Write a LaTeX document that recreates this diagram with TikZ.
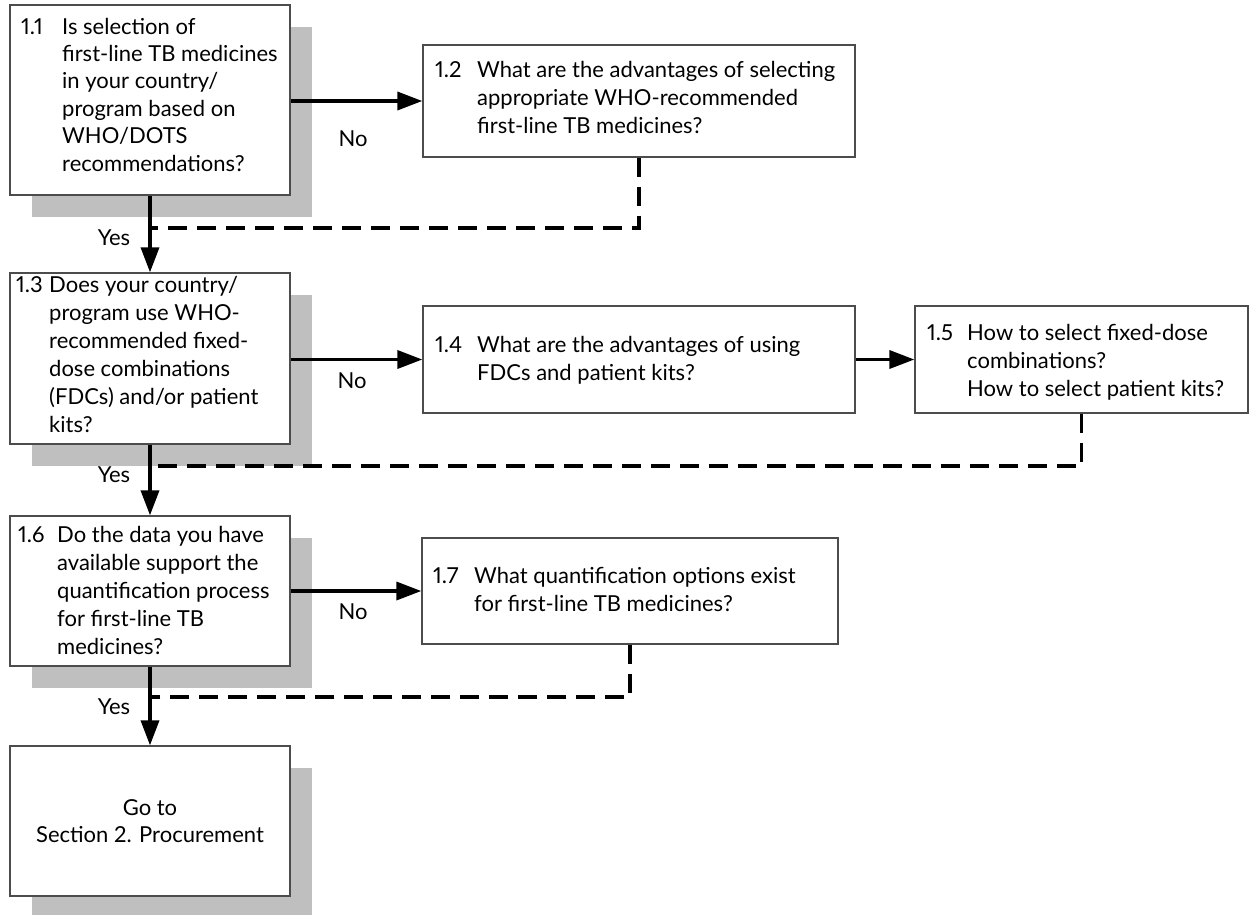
\documentclass[tikz,border=0pt]{standalone}
\usepackage{fontspec}
\setmainfont{Lato}[Numbers=Proportional]
\usetikzlibrary{arrows.meta,shadows}
\newcommand\qnum[2]{\makebox[#1][l]{#2}}
\begin{document}
\begin{tikzpicture}[x=1pt,y=-1pt,
  box/.style={draw=black!70, line width=1.3pt, fill=white, inner sep=0pt},
  shadowed/.style={drop shadow={shadow xshift=22pt, shadow yshift=-22pt, fill=black!25, opacity=1}},
  txt/.style={anchor=base west, inner sep=0pt, font=\fontsize{22}{28}\selectfont},
  lbl/.style={inner sep=0pt, font=\fontsize{22}{28}\selectfont},
  flow/.style={line width=3.5pt, -{Triangle[length=25pt,width=18pt]}},
  back/.style={line width=3.5pt, dash pattern=on 19pt off 10pt}]
\useasboundingbox (0,0) rectangle (1250,914);

% question boxes
\node[box, shadowed, minimum width=280, minimum height=190] (b11) at (150,100) {};
\node[box, minimum width=432, minimum height=112] (b12) at (639,101) {};
\node[box, shadowed, minimum width=280, minimum height=171] (b13) at (150,358.5) {};
\node[box, minimum width=432, minimum height=107] (b14) at (639,359.5) {};
\node[box, minimum width=333, minimum height=107] (b15) at (1081.5,359.5) {};
\node[box, shadowed, minimum width=280, minimum height=150] (b16) at (150,591) {};
\node[box, minimum width=416, minimum height=106] (b17) at (630,591) {};
\node[box, shadowed, minimum width=280, minimum height=150] (b2) at (150,821) {};

% box texts
\node[txt, font=\fontsize{22}{27.4}\selectfont] (t11) at (21,34) {\qnum{41pt}{1.1}\begin{tabular}[t]{@{}l@{}}Is selection of\\first-line TB medicines\\in your country/\\program based on\\WHO/DOTS\\recommendations?\end{tabular}};
\node[txt] (t12) at (435,77) {\qnum{42pt}{1.2}\begin{tabular}[t]{@{}l@{}}What are the advantages of selecting\\appropriate WHO-recommended\\first-line TB medicines?\end{tabular}};
\node[txt] (t13) at (16,292) {\qnum{33pt}{1.3}\begin{tabular}[t]{@{}l@{}}Does your country/\\program use WHO-\\recommended fixed-\\dose combinations\\(FDCs) and/or patient\\kits?\end{tabular}};
\node[txt] (t14) at (435,352) {\qnum{42pt}{1.4}\begin{tabular}[t]{@{}l@{}}What are the advantages of using\\FDCs and patient kits?\end{tabular}};
\node[txt] (t15) at (927,340) {\qnum{40pt}{1.5}\begin{tabular}[t]{@{}l@{}}How to select fixed-dose\\combinations?\\How to select patient kits?\end{tabular}};
\node[txt] (t16) at (18,542) {\qnum{39pt}{1.6}\begin{tabular}[t]{@{}l@{}}Do the data you have\\available support the\\quantification process\\for first-line TB\\medicines?\end{tabular}};
\node[txt] (t17) at (433,583) {\qnum{41pt}{1.7}\begin{tabular}[t]{@{}l@{}}What quantification options exist\\for first-line TB medicines?\end{tabular}};
\node[txt, anchor=base, font=\fontsize{22}{27}\selectfont] (t2) at (150,815) {\begin{tabular}[t]{@{}c@{}}Go to\\Section 2. Procurement\end{tabular}};

% return paths
\coordinate (j1) at (150,228);
\coordinate (j2) at (150,466);
\coordinate (j3) at (150,697);
\draw[back] (b12.south) |- (j1);
\draw[back] (b15.south) |- (j2);
\draw[back] (b17.south) |- (j3);

% main flow
\draw[flow] (b11.east |- b12.west) -- (b12.west);
\draw[flow] (b13.east |- b14.west) -- (b14.west);
\draw[flow] (b14.east) -- (b15.west);
\draw[flow] (b16.east) -- (b17.west);
\draw[flow] (b11.south) -- (b13.north);
\draw[flow] (b13.south) -- (b16.north);
\draw[flow] (b16.south) -- (b2.north);

% branch labels
\node[lbl] (no1) at (353,139) {No};
\node[lbl] (no2) at (352,381) {No};
\node[lbl] (no3) at (353,612) {No};
\node[lbl] (yes1) at (114,238) {Yes};
\node[lbl] (yes2) at (114,475) {Yes};
\node[lbl] (yes3) at (114,707) {Yes};
\end{tikzpicture}
\end{document}
